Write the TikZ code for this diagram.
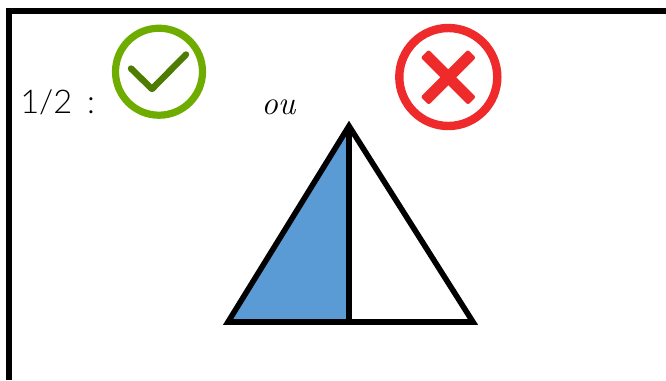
\documentclass[tikz,border=0pt]{standalone}
\usepackage{xcolor}
\usepackage{fontspec}
\newfontfamily\thinfont{Lato}[UprightFont=* Light]
\usetikzlibrary{positioning}
\definecolor{okRing}{HTML}{6FAC00}
\definecolor{okMark}{HTML}{4D7C00}
\definecolor{noRed}{HTML}{EE2A2A}
\definecolor{partBlue}{HTML}{5B9BD5}
\tikzset{
    font=\sffamily,
    % Shapes
    ring/.style={circle, inner sep=0pt},
    okCircle/.style={ring, draw=okRing, line width=5.4pt, minimum size=65.25pt},
    noCircle/.style={ring, draw=noRed, line width=6.3pt, minimum size=73.5pt},
    noBar/.style={rectangle, fill=noRed, rounded corners=1.5pt, inner sep=0pt,
                  minimum width=50pt, minimum height=8.4pt},
    % Marks & Lines
    okStroke/.style={draw=okMark, line width=4.8pt, line cap=round, line join=round},
    outline/.style={draw=black, line width=4.2pt, line join=miter},
    frameLine/.style={draw=black, line width=5pt, line join=miter},
    lbl/.style={inner sep=0pt, anchor=base west}
}
\begin{document}
\begin{tikzpicture}[x=0.75pt, y=-0.75pt]
\useasboundingbox (0,0) rectangle (666,380);

% Frame
\coordinate (frameBottom) at (9,380);
\coordinate (frameCorner) at (9,11);
\coordinate (frameRight) at (666,11);
\draw[frameLine] (frameBottom) -- (frameCorner) -- (frameRight);

% Labels
\node[lbl, font=\fontsize{24.5}{29}\selectfont\thinfont] (half) at (20,113.5) {1/2\hspace{11pt}:};
\node[lbl, font=\fontsize{25}{30}\selectfont\rmfamily\itshape] (ou) at (261,114) {ou};

% Right answer
\node[okCircle] (okRound) at (159,71.7) {};
\coordinate (okA) at (131,68.5);
\coordinate (okB) at (152,89);
\coordinate (okC) at (186,54.5);
\draw[okStroke] (okA) -- (okB) -- (okC);

% Wrong answer
\node[noCircle] (noRound) at (448.3,77) {};
\node[noBar, rotate=45] (noBarA) at (448.3,77.3) {};
\node[noBar, rotate=-45] (noBarB) at (448.3,77.3) {};

% Triangle
\coordinate (apex) at (349,126);
\coordinate (left) at (228,322);
\coordinate (right) at (473,322);
\coordinate (foot) at (349,322);
\fill[partBlue] (apex) -- (left) -- (foot) -- cycle;
\draw[outline] (apex) -- (left) -- (right) -- cycle;
\draw[outline] (apex) -- (foot);

\end{tikzpicture}
\end{document}
